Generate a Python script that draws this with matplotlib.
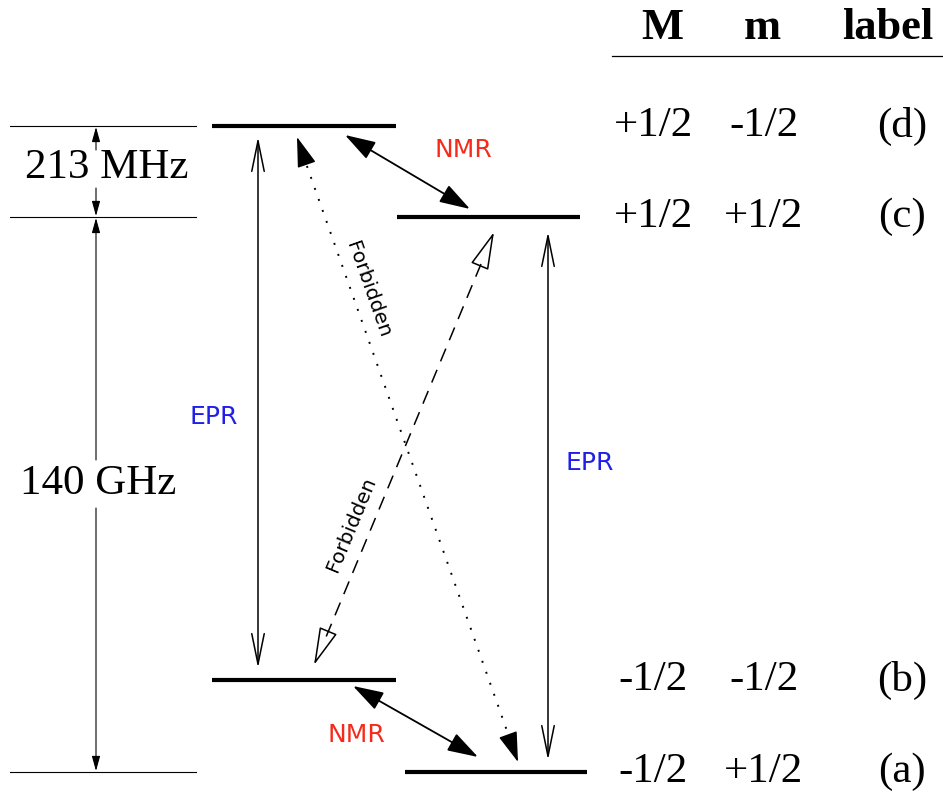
import matplotlib.pyplot as plt
from matplotlib.patches import FancyArrowPatch

# four spin states of an S=1/2, I=1/2 pair, lowest first
state_labels = ['(a)', '(b)', '(c)', '(d)']
M_values = ['-1/2', '-1/2', '+1/2', '+1/2']
m_values = ['+1/2', '-1/2', '+1/2', '-1/2']
# drawing height of each level (screen units, y grows downward)
level_y = [772, 680, 217, 126]
level_span = [(405, 587), (212, 396), (397, 580), (212, 396)]

header = ['M', 'm', 'label']
gap_labels = ['213 MHz', '140 GHz']

serif = 'Liberation Serif'
blue = '#1f1fe8'
red = '#f52a1a'

fig = plt.figure(figsize=(9.43, 7.96), dpi=100)
ax = fig.add_axes([0, 0, 1, 1])
ax.set_xlim(0, 943)
ax.set_ylim(796, 0)
ax.axis('off')


def arrow(p0, p1, style, **kw):
    if 'facecolor' in kw:
        kw.setdefault('edgecolor', 'black')
    else:
        kw.setdefault('color', 'black')
    kw.setdefault('lw', 1.1)
    a = FancyArrowPatch(p0, p1, arrowstyle=style, mutation_scale=1,
                        shrinkA=0, shrinkB=0, **kw)
    ax.add_patch(a)
    return a


ya, yb, yc, yd = level_y

# energy levels
for y, (x0, x1) in zip(level_y, level_span):
    ax.plot([x0, x1], [y, y], color='black', lw=3.0, solid_capstyle='butt')

# reference lines for the splittings
for y in (yd, yc, ya):
    ax.plot([10, 196], [y, y], color='black', lw=0.8)

small = '-|>,head_length=9,head_width=2.5'
arrow((96, 150), (96, yd + 1), small, lw=0.8)
arrow((96, 188), (96, yc - 1), small, lw=0.8)
arrow((96, 460), (96, yc + 1), small, lw=0.8)
arrow((96, 508), (96, ya - 1), small, lw=0.8)
ax.text(107, 168, gap_labels[0], fontsize=31, family=serif,
        ha='center', va='center')
ax.text(98, 484, gap_labels[1], fontsize=31, family=serif,
        ha='center', va='center')

# allowed EPR transitions
epr = '<->,head_length=22,head_width=4.5'
arrow((258, yd + 11), (258, yb - 12), epr)
arrow((548, yc + 15), (548, ya - 12), epr)
ax.text(214, 417, 'EPR', color=blue, fontsize=18, ha='center', va='center')
ax.text(590, 463, 'EPR', color=blue, fontsize=18, ha='center', va='center')

# NMR transitions
nmr = '<|-|>,head_length=19,head_width=6'
arrow((345, 135), (470, 209), nmr, lw=1.3)
arrow((353, 686), (478, 757), nmr, lw=1.3)
ax.text(463, 150, 'NMR', color=red, fontsize=18, ha='center', va='center')
ax.text(356, 735, 'NMR', color=red, fontsize=18, ha='center', va='center')

# forbidden transitions
ax.plot([303, 512], [155, 745], color='black', lw=1.4, ls=(0, (1, 5)))
head = '-|>,head_length=19,head_width=6'
arrow((305, 160), (297, 137), head, lw=1.0)
arrow((510, 740), (518, 762), head, lw=1.0)
ax.text(368, 290, 'Forbidden', fontsize=14.5, rotation=-70.5,
        rotation_mode='anchor', ha='center', va='center')

ax.plot([481, 326], [264, 637], color='black', lw=1.1, ls=(0, (9, 6)))
open_head = '-|>,head_length=24,head_width=6'
arrow((484, 256), (494, 232), open_head, lw=1.1, facecolor='white')
arrow((324, 641), (314, 665), open_head, lw=1.1, facecolor='white')
ax.text(351, 524, 'Forbidden', fontsize=14.5, rotation=67.4,
        rotation_mode='anchor', ha='center', va='center')

# quantum number table
for x, h in zip([662, 762, 888], header):
    ax.text(x, 28, h, fontsize=32, family=serif, weight='bold',
            ha='center', va='center')
ax.plot([612, 943], [56, 56], color='black', lw=0.9)
for y, M, m, lab in zip(level_y, M_values, m_values, state_labels):
    ax.text(653, y, M, fontsize=31, family=serif, ha='center', va='center')
    ax.text(764, y, m, fontsize=31, family=serif, ha='center', va='center')
    ax.text(902, y, lab, fontsize=31, family=serif, ha='center', va='center')

fig.savefig('out.png', dpi=100)
